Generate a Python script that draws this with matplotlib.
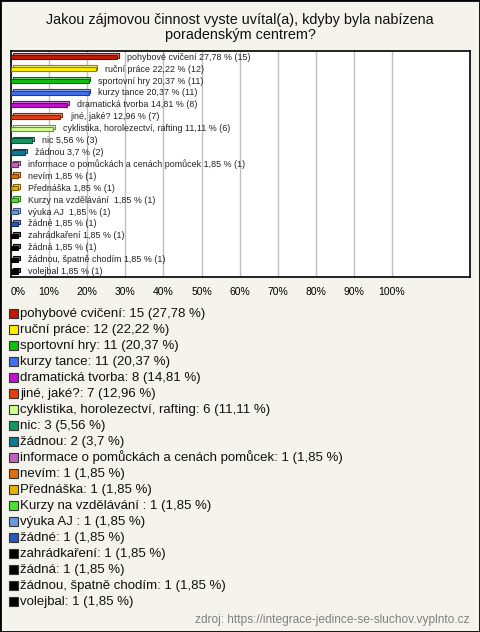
import matplotlib
matplotlib.use('Agg')
import matplotlib.pyplot as plt
from matplotlib.patches import Rectangle
from matplotlib.transforms import ScaledTranslation
import matplotlib.colors as mcolors

plt.rcParams['font.family'] = ['Liberation Sans', 'DejaVu Sans']

title = "Jakou zájmovou činnost vyste uvítal(a), kdyby byla nabízena\nporadenským centrem?"
categories = ["pohybové cvičení", "ruční práce", "sportovní hry", "kurzy tance",
              "dramatická tvorba", "jiné, jaké?", "cyklistika, horolezectví, rafting",
              "nic", "žádnou", "informace o pomůckách a cenách pomůcek", "nevím",
              "Přednáška", "Kurzy na vzdělávání ", "výuka AJ ", "žádné",
              "zahrádkaření", "žádná", "žádnou, špatně chodím", "volejbal"]
counts = [15, 12, 11, 11, 8, 7, 6, 3, 2, 1, 1, 1, 1, 1, 1, 1, 1, 1, 1]
percents = [27.78, 22.22, 20.37, 20.37, 14.81, 12.96, 11.11, 5.56, 3.7, 1.85,
            1.85, 1.85, 1.85, 1.85, 1.85, 1.85, 1.85, 1.85, 1.85]
colors = ["#c01a0a", "#ffee00", "#10c010", "#4070f0", "#c010d0", "#e04010",
          "#d0ff90", "#109860", "#107890", "#c060c0", "#e07010", "#e8b000",
          "#50e030", "#6898e0", "#2858b8", "#000000", "#000000", "#000000", "#000000"]
xticks = [0, 10, 20, 30, 40, 50, 60, 70, 80, 90, 100]
source = "zdroj: https://integrace-jedince-se-sluchov.vyplnto.cz"

W, H = 480, 632


def pct_str(p):
    s = f"{p:.2f}".rstrip('0').rstrip('.')
    return s.replace('.', ',')


def darker(c, f=0.55):
    r, g, b = mcolors.to_rgb(c)
    return (r * f, g * f, b * f)


def lighter(c, f=0.45):
    r, g, b = mcolors.to_rgb(c)
    return (r + (1 - r) * f, g + (1 - g) * f, b + (1 - b) * f)


fig = plt.figure(figsize=(W / 100, H / 100), dpi=100)
fig.patch.set_facecolor('#f4f3ec')

ax = fig.add_axes([11 / W, 1 - 277 / H, 459 / W, 226 / H])
ax.set_facecolor('white')
ax.set_xlim(0, 459 / 3.81)
ax.set_ylim(18.45, -0.52)
for s in ax.spines.values():
    s.set_color('black')
    s.set_linewidth(1.2)

ypos = list(range(len(categories)))
h = 0.36
# back (3D depth) bars
back = ax.barh(ypos, percents, height=h, color=[lighter(c) for c in colors],
               edgecolor=[darker(c) for c in colors], linewidth=0.8, zorder=2)
off = ScaledTranslation(1.7 / 100, 1.7 / 100, fig.dpi_scale_trans)
for p in back:
    p.set_transform(ax.transData + off)
front = ax.barh(ypos, percents, height=h, color=colors,
                edgecolor=[darker(c) for c in colors], linewidth=0.8, zorder=3)

for i, (cat, c, p) in enumerate(zip(categories, counts, percents)):
    ax.annotate(f"{cat} {pct_str(p)} % ({c})", (p, i), xytext=(7, 0),
                textcoords='offset points', va='center', ha='left',
                fontsize=6.4, color='#222222', zorder=4)

ax.set_yticks([])
ax.set_xticks(xticks)
ax.set_xticklabels([f"{t}%" for t in xticks], fontsize=7.5)
ax.get_xticklabels()[0].set_ha('left')
ax.tick_params(axis='x', length=0, pad=7)
ax.grid(axis='x', color='#c0c0c0', linewidth=1, zorder=0)
ax.set_axisbelow(True)

fig.text(0.5, 1 - 27.5 / H, title, ha='center', va='center', fontsize=10.4,
         linespacing=1.05, color='#111111')

# legend
for i, (cat, c, p, col) in enumerate(zip(categories, counts, percents, colors)):
    yc = 313.5 + 16 * i
    fig.patches.append(Rectangle((8.5 / W, 1 - (yc + 4.5) / H), 9 / W, 9 / H,
                                 transform=fig.transFigure, facecolor=col,
                                 edgecolor='#333333', linewidth=0.8))
    fig.text(20 / W, 1 - yc / H, f"{cat}: {c} ({pct_str(p)} %)", ha='left',
             va='center', fontsize=9.5, color='#111111')

fig.text(470 / W, 1 - 620 / H, source, ha='right', va='center', fontsize=8.6,
         color='#808080')

fig.patches.append(Rectangle((0, 0), 1, 1, transform=fig.transFigure,
                             facecolor='none', edgecolor='black', linewidth=2))

fig.savefig('out.png', dpi=100, facecolor=fig.get_facecolor())
